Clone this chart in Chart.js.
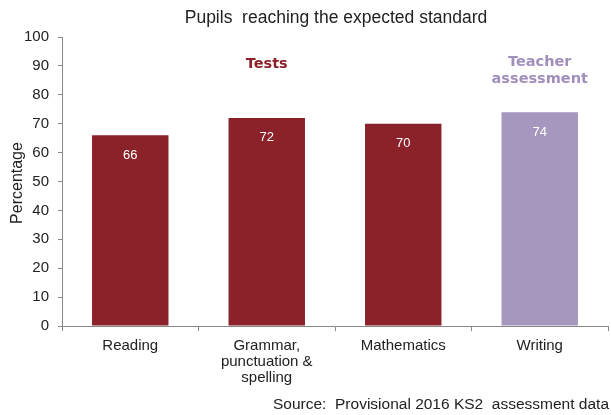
<!DOCTYPE html>
<html>
<head>
<meta charset="utf-8">
<script src="https://cdn.jsdelivr.net/npm/chart.js@4"></script>
<style>
html,body{margin:0;padding:0;background:#fff;}
#wrap{width:611px;height:415px;position:relative;}
</style>
</head>
<body>
<div id="wrap"><canvas id="c" width="611" height="415"></canvas></div>
<script>
const categories = [["Reading"], ["Grammar,", "punctuation &", "spelling"], ["Mathematics"], ["Writing"]];
const values = [66, 72, 70, 74];
const barColors = ["#8B2229", "#8B2229", "#8B2229", "#A597BE"];
const yTicks = [0, 10, 20, 30, 40, 50, 60, 70, 80, 90, 100];
const titleText = "Pupils  reaching the expected standard";
const yTitle = "Percentage";
const sourceText = "Source:  Provisional 2016 KS2  assessment data";
const groupLabels = [
  { lines: ["Tests"], color: "#8B2229", cat: 1 },
  { lines: ["Teacher", "assessment"], color: "#A08FBD", cat: 3 }
];

const FONT = "'Liberation Sans', Arial, sans-serif";

const overlay = {
  id: 'overlay',
  afterDraw(chart) {
    const ctx = chart.ctx;
    const meta = chart.getDatasetMeta(0);
    ctx.save();
    ctx.fillStyle = '#222';
    ctx.font = "17.5px " + FONT;
    ctx.textAlign = 'center';
    ctx.textBaseline = 'middle';
    ctx.fillText(titleText, 336, 18);
    // y axis title
    ctx.save();
    ctx.translate(18, 183);
    ctx.rotate(-Math.PI / 2);
    ctx.font = "16px " + FONT;
    ctx.fillText(yTitle, 0, 0);
    ctx.restore();
    // value labels
    ctx.fillStyle = '#fff';
    ctx.font = "13px " + FONT;
    meta.data.forEach((bar, i) => {
      ctx.fillText(String(values[i]), bar.x, bar.y + 20);
    });
    ctx.font = "bold 14.5px 'DejaVu Sans', sans-serif";
    groupLabels.forEach(g => {
      const x = meta.data[g.cat].x;
      g.lines.forEach((l, k) => {
        ctx.fillStyle = g.color;
        ctx.fillText(l, x, (g.lines.length > 1 ? 62 : 64) + k * 17);
      });
    });
    ctx.fillStyle = '#222';
    ctx.font = "15.5px " + FONT;
    ctx.textAlign = 'right';
    ctx.fillText(sourceText, 609, 405);
    ctx.restore();
  }
};

new Chart(document.getElementById('c'), {
  type: 'bar',
  data: {
    labels: categories,
    datasets: [{
      data: values,
      backgroundColor: barColors,
      borderWidth: 0,
      categoryPercentage: 1.0,
      barPercentage: 0.56
    }]
  },
  options: {
    responsive: false,
    animation: false,
    devicePixelRatio: 1,
    layout: { padding: { top: 37, right: 3, left: 0, bottom: 0 } },
    plugins: { legend: { display: false }, tooltip: { enabled: false } },
    scales: {
      y: {
        min: 0, max: 100,
        afterBuildTicks(scale) { scale.ticks = yTicks.map(v => ({ value: v })); },
        afterFit(scale) { scale.width = 62; },
        ticks: { color: '#222', font: { family: FONT, size: 15 }, padding: 9, autoSkip: false },
        grid: { drawOnChartArea: false, tickLength: 4, color: '#888' },
        border: { color: '#888', width: 1 }
      },
      x: {
        afterFit(scale) { scale.height = 415 - 326; },
        ticks: { color: '#222', font: { family: FONT, size: 15, lineHeight: 1.07 }, padding: 7, maxRotation: 0, autoSkip: false },
        grid: { drawOnChartArea: false, tickLength: 5, color: '#888', offset: true },
        border: { color: '#888', width: 1 }
      }
    }
  },
  plugins: [overlay]
});
</script>
</body>
</html>
